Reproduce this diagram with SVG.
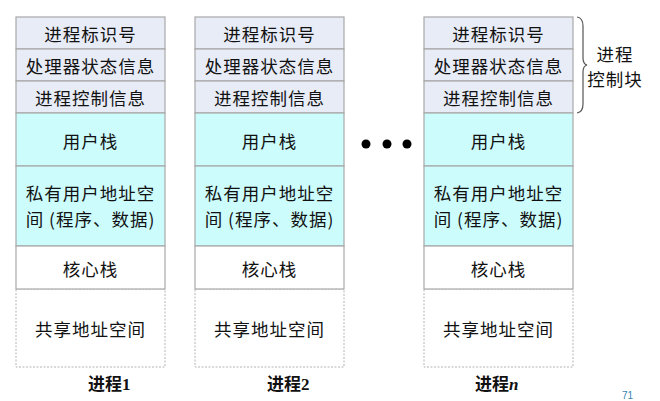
<svg xmlns="http://www.w3.org/2000/svg" width="660" height="401" viewBox="0 0 660 401">
<style>
.pcb{fill:#E8ECF7;stroke:#A8A8A8;stroke-width:1.2}
.usr{fill:#CCFCFC;stroke:#A8A8A8;stroke-width:1.2}
.ker{fill:#FFFFFF;stroke:#A8A8A8;stroke-width:1.2}
.shr{fill:#FFFFFF;stroke:#B4B4B4;stroke-width:1;stroke-dasharray:2 1.5}
.t{font-family:"Noto Sans CJK SC","Liberation Sans",sans-serif;font-size:17.5px;fill:#111;text-anchor:middle;dominant-baseline:central;letter-spacing:1px}
.lb{font-family:"Liberation Serif","Noto Sans CJK SC",serif;font-size:17px;font-weight:bold;fill:#111}
</style>
<rect width="660" height="401" fill="#FFFFFF"/>
<defs>
<g id="col">
<rect class="pcb" x="0" y="17" width="149" height="32"/>
<rect class="pcb" x="0" y="49" width="149" height="32"/>
<rect class="pcb" x="0" y="81" width="149" height="32"/>
<rect class="usr" x="0" y="113" width="149" height="53"/>
<rect class="usr" x="0" y="166" width="149" height="80"/>
<rect class="shr" x="0" y="289" width="149" height="78"/>
<rect class="ker" x="0" y="246" width="149" height="43"/>
<text class="t" x="74.5" y="33">进程标识号</text>
<text class="t" x="74.5" y="65">处理器状态信息</text>
<text class="t" x="74.5" y="97">进程控制信息</text>
<text class="t" x="74.5" y="140">用户栈</text>
<text class="t" x="74.5" y="192">私有用户地址空</text>
<text class="t" x="74.5" y="218">间 (程序、数据)</text>
<text class="t" x="74.5" y="268">核心栈</text>
<text class="t" x="74.5" y="328">共享地址空间</text>
</g>
</defs>
<g id="process1"><use href="#col" x="16"/><text class="lb" x="88" y="390">进程1</text></g>
<g id="process2"><use href="#col" x="195"/><text class="lb" x="267" y="390">进程2</text></g>
<g id="processn"><use href="#col" x="424"/><text class="lb" x="475" y="390">进程<tspan font-style="italic">n</tspan></text></g>
<g id="ellipsis" fill="#000">
<circle cx="366" cy="144" r="4.5"/>
<circle cx="387" cy="144" r="4.5"/>
<circle cx="407" cy="144" r="4.5"/>
</g>
<g id="connectors">
<path d="M577,17 Q583,18 583,26 L583,58 Q583,64 587,65 Q583,66 583,72 L583,104 Q583,112 577,113" fill="none" stroke="#555" stroke-width="1.2"/>
</g>
<g id="pcb-label">
<text class="t" x="615" y="53">进程</text>
<text class="t" x="615" y="78">控制块</text>
</g>
<text x="622" y="399" font-family="Liberation Sans,sans-serif" font-size="10" fill="#3A85B0">71</text>
</svg>
